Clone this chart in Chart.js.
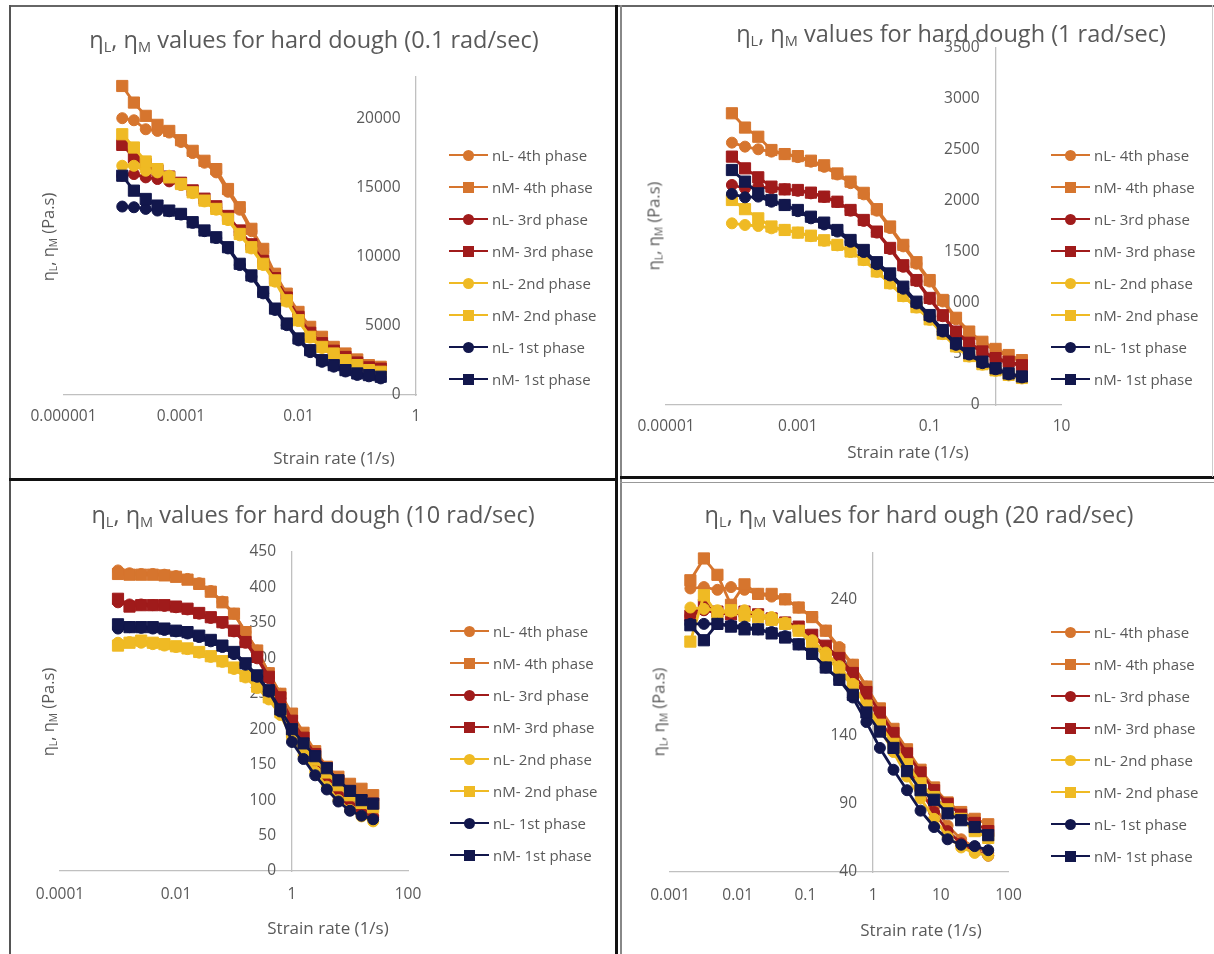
<!DOCTYPE html>
<html>
<head>
<meta charset="utf-8">
<title>hard dough viscosity</title>
<script src="https://cdn.jsdelivr.net/npm/chart.js"></script>
<style>
  body { margin: 0; width: 1214px; height: 954px; position: relative; overflow: hidden; background: #fff;
         font-family: 'Open Sans', sans-serif; color: #595959; }
  canvas { position: absolute; }
  .ln { position: absolute; }
  .title { position: absolute; font-size: 23.5px; white-space: nowrap; transform: translate(-50%, -50%); }
  .title sub, .ytitle sub { font-size: 62%; vertical-align: -0.3em; line-height: 0; }
  .ytitle { position: absolute; font-size: 16.5px; white-space: nowrap; transform: translate(-50%, -50%) rotate(-90deg); }
  .xtitle { position: absolute; font-size: 17px; white-space: nowrap; transform: translate(-50%, -50%); }
  .legend { position: absolute; font-size: 15px; }
  .legend .row { height: 32px; display: flex; align-items: center; white-space: nowrap; }
  .sym { position: relative; width: 39px; height: 12px; margin-right: 4px; }
  .sym .bar { position: absolute; left: 0; right: 0; top: 50%; height: 2.8px; margin-top: -1.4px; }
  .sym .mk { position: absolute; left: 50%; top: 50%; width: 11px; height: 11px; margin: -5.5px 0 0 -5.5px; }
</style>
</head>
<body>

<!-- panel frames -->
<div class="ln" style="left:9px;top:5px;width:1205px;height:2px;background:#666"></div>
<div class="ln" style="left:9px;top:5px;width:2px;height:949px;background:#555"></div>
<div class="ln" style="left:615px;top:5px;width:3px;height:949px;background:#111"></div>
<div class="ln" style="left:620px;top:5px;width:1.5px;height:949px;background:#888"></div>
<div class="ln" style="left:9px;top:478px;width:606px;height:3px;background:#111"></div>
<div class="ln" style="left:620px;top:476px;width:594px;height:2.5px;background:#111"></div>
<div class="ln" style="left:620px;top:482px;width:594px;height:1px;background:#999"></div>
<div class="ln" style="left:1212px;top:5px;width:1px;height:472px;background:#ccc"></div>

<canvas id="c1" width="600" height="470" style="left:10px;top:6px"></canvas>
<canvas id="c2" width="590" height="468" style="left:622px;top:6px"></canvas>
<canvas id="c3" width="600" height="470" style="left:10px;top:482px"></canvas>
<canvas id="c4" width="590" height="470" style="left:622px;top:482px"></canvas>

<div class="title" style="left:314px;top:39px">η<sub>L</sub>, η<sub>M</sub> values for hard dough (0.1 rad/sec)</div>
<div class="title" style="left:951px;top:33px">η<sub>L</sub>, η<sub>M</sub> values for hard dough (1 rad/sec)</div>
<div class="title" style="left:313px;top:514px">η<sub>L</sub>, η<sub>M</sub> values for hard dough (10 rad/sec)</div>
<div class="title" style="left:919px;top:514px">η<sub>L</sub>, η<sub>M</sub> values for hard ough (20 rad/sec)</div>

<div class="ytitle" style="left:47px;top:237px">η<sub>L</sub>, η<sub>M</sub> (Pa.s)</div>
<div class="ytitle" style="left:653px;top:226px">η<sub>L</sub>, η<sub>M</sub> (Pa.s)</div>
<div class="ytitle" style="left:47px;top:712px">η<sub>L</sub>, η<sub>M</sub> (Pa.s)</div>
<div class="ytitle" style="left:658px;top:712px">η<sub>L</sub>, η<sub>M</sub> (Pa.s)</div>

<div class="xtitle" style="left:334px;top:457px">Strain rate (1/s)</div>
<div class="xtitle" style="left:908px;top:451px">Strain rate (1/s)</div>
<div class="xtitle" style="left:328px;top:927px">Strain rate (1/s)</div>
<div class="xtitle" style="left:921px;top:929px">Strain rate (1/s)</div>

<div class="legend" id="lg1" style="left:449px;top:139px"></div>
<div class="legend" id="lg2" style="left:1051px;top:139px"></div>
<div class="legend" id="lg3" style="left:450px;top:615px"></div>
<div class="legend" id="lg4" style="left:1051px;top:616px"></div>

<script>
// series names and colours (same for all four panels)
const seriesLabels = ['nL- 4th phase', 'nM- 4th phase', 'nL- 3rd phase', 'nM- 3rd phase',
                      'nL- 2nd phase', 'nM- 2nd phase', 'nL- 1st phase', 'nM- 1st phase'];
const phaseColors = ['#D6752E', '#D6752E', '#A01B1B', '#A01B1B', '#EFBA24', '#EFBA24', '#12174C', '#12174C'];

// ---- 0.1 rad/sec ----
const strain1 = [0.00001, 0.0000158, 0.0000251, 0.0000398, 0.0000631, 0.0001, 0.000158, 0.000251, 0.000398, 0.000631,
                 0.001, 0.00158, 0.00251, 0.00398, 0.00631, 0.01, 0.0158, 0.0251, 0.0398, 0.0631, 0.1, 0.158, 0.251];
const p1_nL4 = [20020, 19870, 19220, 19100, 18980, 18300, 17500, 16800, 16100, 14700, 13400, 11850, 10400, 8600, 7200, 5900, 4850, 4100, 3400, 2900, 2480, 2100, 1950];
const p1_nM4 = [22350, 21150, 20190, 19540, 19100, 18430, 17660, 16940, 16340, 14900, 13580, 12020, 10570, 8770, 7330, 6010, 4930, 4210, 3480, 3000, 2570, 2160, 2040];
const p1_nL3 = [15860, 15980, 15740, 15620, 15450, 15200, 14700, 14100, 13550, 12850, 11800, 10800, 9600, 8350, 6950, 5550, 4400, 3650, 3100, 2650, 2250, 1950, 1850];
const p1_nM3 = [18090, 17180, 16700, 16250, 15800, 15350, 14800, 14200, 13650, 12950, 11900, 10900, 9700, 8450, 7050, 5650, 4500, 3750, 3200, 2750, 2350, 2000, 1900];
const p1_nL2 = [16580, 16580, 16220, 16100, 15860, 15200, 14600, 14000, 13400, 12650, 11550, 10600, 9400, 8200, 6750, 5350, 4150, 3400, 2900, 2450, 2100, 1750, 1600];
const p1_nM2 = [18860, 17900, 16890, 16340, 15740, 15260, 14660, 14060, 13460, 12740, 11650, 10690, 9490, 8290, 6850, 5410, 4210, 3480, 3000, 2520, 2160, 1800, 1680];
const p1_nL1 = [13630, 13580, 13460, 13340, 13290, 13050, 12450, 11850, 11350, 10600, 9400, 8550, 7350, 6150, 5050, 3950, 3100, 2400, 2050, 1700, 1450, 1350, 1200];
const p1_nM1 = [15860, 14780, 14180, 13700, 13340, 13100, 12500, 11900, 11410, 10690, 9490, 8650, 7450, 6250, 5170, 4090, 3240, 2520, 2160, 1800, 1560, 1440, 1320];
const xTicks1 = [0.000001, 0.0001, 0.01, 1];
const xLabels1 = ['0.000001', '0.0001', '0.01', '1'];
const yTicks1 = [0, 5000, 10000, 15000, 20000];

// ---- 1 rad/sec ----
const strain2 = [0.0001, 0.000158, 0.000251, 0.000398, 0.000631, 0.001, 0.00158, 0.00251, 0.00398, 0.00631,
                 0.01, 0.0158, 0.0251, 0.0398, 0.0631, 0.1, 0.158, 0.251, 0.398, 0.631, 1, 1.58, 2.51];
const p2_nL4 = [2572, 2533, 2507, 2484, 2461, 2430, 2385, 2335, 2260, 2175, 2065, 1905, 1735, 1555, 1385, 1210, 1015, 840, 705, 605, 535, 475, 425];
const p2_nM4 = [2860, 2720, 2630, 2500, 2460, 2440, 2395, 2350, 2270, 2190, 2080, 1920, 1750, 1570, 1400, 1225, 1030, 855, 720, 620, 550, 490, 440];
const p2_nL3 = [2157, 2124, 2141, 2124, 2114, 2100, 2075, 2040, 1990, 1905, 1805, 1690, 1530, 1355, 1215, 1040, 870, 710, 600, 515, 450, 415, 380];
const p2_nM3 = [2435, 2320, 2232, 2141, 2114, 2108, 2082, 2043, 1993, 1912, 1814, 1700, 1540, 1370, 1225, 1050, 880, 720, 610, 525, 460, 425, 390];
const p2_nL2 = [1781, 1765, 1755, 1732, 1716, 1690, 1655, 1610, 1565, 1500, 1420, 1305, 1190, 1065, 955, 835, 695, 570, 475, 395, 335, 290, 260];
const p2_nM2 = [2010, 1920, 1830, 1750, 1716, 1690, 1660, 1615, 1570, 1505, 1425, 1310, 1195, 1070, 960, 840, 700, 575, 480, 400, 340, 295, 265];
const p2_nL1 = [2069, 2036, 2043, 1993, 1961, 1900, 1830, 1770, 1700, 1600, 1500, 1380, 1270, 1140, 995, 865, 720, 590, 495, 410, 350, 300, 270];
const p2_nM1 = [2304, 2190, 2075, 2010, 1961, 1912, 1846, 1788, 1716, 1618, 1520, 1400, 1290, 1160, 1013, 882, 735, 605, 507, 425, 360, 310, 280];
const xTicks2 = [0.00001, 0.001, 0.1, 10];
const xLabels2 = ['0.00001', '0.001', '0.1', '10'];
const yTicks2 = [0, 500, 1000, 1500, 2000, 2500, 3000, 3500];

// ---- 10 rad/sec ----
const strain3 = [0.001, 0.00158, 0.00251, 0.00398, 0.00631, 0.01, 0.0158, 0.0251, 0.0398, 0.0631,
                 0.1, 0.158, 0.251, 0.398, 0.631, 1, 1.58, 2.51, 3.98, 6.31, 10, 15.8, 25.1];
const p3_nL4 = [424, 420, 419, 419, 418, 416, 412, 406, 395, 380, 363, 337, 311, 279, 250, 210, 178, 152, 128, 108, 94, 85, 78];
const p3_nM4 = [419, 418, 418, 418, 417, 415, 411, 405, 394, 379, 363, 337, 311, 279, 250, 222, 195, 169, 147, 133, 123, 116, 107];
const p3_nL3 = [379, 376, 376, 375, 374, 372, 369, 363, 357, 350, 338, 322, 300, 272, 243, 200, 172, 148, 126, 106, 91, 82, 76];
const p3_nM3 = [384, 373, 375, 375, 375, 373, 370, 364, 358, 351, 339, 323, 302, 274, 245, 212, 188, 165, 145, 127, 112, 100, 95];
const p3_nL2 = [322, 323, 322, 320, 318, 316, 313, 308, 302, 295, 285, 273, 258, 242, 220, 188, 163, 140, 119, 100, 86, 77, 70];
const p3_nM2 = [318, 322, 325, 322, 320, 317, 314, 309, 303, 296, 287, 275, 260, 245, 224, 196, 176, 157, 139, 121, 107, 96, 90];
const p3_nL1 = [342, 344, 343, 342, 340, 338, 335, 330, 324, 316, 306, 291, 274, 253, 225, 182, 158, 135, 115, 98, 85, 78, 73];
const p3_nM1 = [348, 344, 344, 344, 342, 339, 337, 332, 326, 318, 309, 293, 276, 255, 228, 200, 180, 162, 145, 128, 113, 100, 95];
const xTicks3 = [0.0001, 0.01, 1, 100];
const xLabels3 = ['0.0001', '0.01', '1', '100'];
const yTicks3 = [0, 50, 100, 150, 200, 250, 300, 350, 400, 450];

// ---- 20 rad/sec ----
const strain4 = [0.002, 0.00317, 0.00502, 0.00796, 0.0126, 0.02, 0.0317, 0.0502, 0.0796, 0.126,
                 0.2, 0.317, 0.502, 0.796, 1.26, 2, 3.17, 5.02, 7.96, 12.6, 20, 31.7, 50.2];
const p4_nL4 = [248, 249, 247, 249, 247, 244, 242, 240, 234, 227, 217, 205, 192, 176, 158, 140, 122, 105, 88, 74, 64, 58, 54];
const p4_nM4 = [254, 270, 258, 236, 251, 244, 244, 240, 234, 227, 217, 203, 192, 176, 160, 145, 130, 115, 102, 91, 84, 79, 75];
const p4_nL3 = [228, 232, 230, 229, 230, 228, 226, 223, 219, 213, 205, 195, 183, 168, 152, 135, 118, 100, 84, 70, 61, 55, 52];
const p4_nM3 = [228, 236, 231, 229, 231, 229, 226, 223, 220, 214, 206, 197, 186, 172, 157, 142, 127, 113, 100, 90, 82, 76, 70];
const p4_nL2 = [234, 233, 232, 231, 232, 229, 227, 223, 217, 210, 201, 191, 178, 162, 145, 128, 110, 94, 79, 66, 58, 54, 52];
const p4_nM2 = [209, 243, 229, 232, 228, 227, 225, 222, 217, 207, 198, 188, 176, 162, 148, 134, 119, 105, 95, 86, 79, 70, 65];
const p4_nL1 = [222, 222, 222, 221, 220, 218, 216, 213, 207, 200, 190, 181, 168, 150, 131, 115, 100, 85, 73, 64, 60, 59, 56];
const p4_nM1 = [221, 210, 222, 220, 218, 218, 215, 212, 207, 200, 190, 181, 170, 157, 143, 131, 114, 100, 93, 83, 78, 73, 67];
const xTicks4 = [0.001, 0.01, 0.1, 1, 10, 100];
const xLabels4 = ['0.001', '0.01', '0.1', '1', '10', '100'];
const yTicks4 = [40, 90, 140, 190, 240];

const tickFont = { family: "'Open Sans', sans-serif", size: 15.5 };
const tickColor = '#595959';
const axisColor = '#c0c0c0';

// the vertical axis crosses at strain rate 1; its labels sit a little to the left (labelAt)
function makeChart(id, strain, series, xr, xTicks, xLabels, yr, yTicks, labelAt, pad, xPad) {
  const datasets = series.map((vals, i) => ({
    label: seriesLabels[i],
    data: strain.map((x, k) => ({ x: x, y: vals[k] })),
    borderColor: phaseColors[i],
    backgroundColor: phaseColors[i],
    pointBackgroundColor: phaseColors[i],
    pointBorderColor: phaseColors[i],
    pointStyle: i % 2 ? 'rect' : 'circle',
    pointRadius: i % 2 ? 7.9 : 5.5,
    pointBorderWidth: 1,
    borderWidth: 2.8,
    tension: 0,
    clip: false,
    order: 8 - i   // excel draws the last series on top
  }));

  const yBuild = s => { s.ticks = yTicks.map(v => ({ value: v })); };

  return new Chart(document.getElementById(id), {
    type: 'line',
    data: { datasets: datasets },
    options: {
      responsive: false,
      animation: false,
      devicePixelRatio: 1,
      layout: { padding: pad },
      plugins: { legend: { display: false }, tooltip: { enabled: false } },
      scales: {
        x: {
          type: 'logarithmic',
          position: 'bottom',
          min: xr[0], max: xr[1],
          grid: { display: false, drawTicks: false },
          border: { color: axisColor, width: 1.3 },
          ticks: { font: tickFont, color: tickColor, padding: xPad, autoSkip: false, maxRotation: 0,
                   callback: (v, i) => xLabels[i] },
          afterBuildTicks: s => { s.ticks = xTicks.map(v => ({ value: v })); },
          afterFit: s => { s.height = 40; }
        },
        y: {
          type: 'linear',
          position: { x: 1 },
          min: yr[0], max: yr[1],
          grid: { display: false, drawTicks: false },
          border: { color: axisColor, width: 1.3 },
          ticks: { display: false },
          afterBuildTicks: yBuild
        },
        yLabels: {
          axis: 'y',
          type: 'linear',
          position: { x: labelAt },
          min: yr[0], max: yr[1],
          grid: { display: false, drawTicks: false },
          border: { display: false },
          ticks: { font: tickFont, color: tickColor, padding: 0, callback: v => String(v) },
          afterBuildTicks: yBuild
        }
      }
    }
  });
}

function makeLegend(id) {
  const box = document.getElementById(id);
  seriesLabels.forEach((name, i) => {
    const row = document.createElement('div');
    row.className = 'row';
    const sym = document.createElement('span');
    sym.className = 'sym';
    const bar = document.createElement('span');
    bar.className = 'bar';
    bar.style.background = phaseColors[i];
    const mk = document.createElement('span');
    mk.className = 'mk';
    mk.style.background = phaseColors[i];
    if (i % 2 === 0) mk.style.borderRadius = '50%';
    sym.appendChild(bar);
    sym.appendChild(mk);
    const txt = document.createElement('span');
    txt.textContent = name;
    row.appendChild(sym);
    row.appendChild(txt);
    box.appendChild(row);
  });
}

makeChart('c1', strain1, [p1_nL4, p1_nM4, p1_nL3, p1_nM3, p1_nL2, p1_nM2, p1_nL1, p1_nM1],
  [0.000001, 1], xTicks1, xLabels1, [0, 23000], yTicks1, 0.545,
  { left: 53.5, top: 71, right: 194, bottom: 41 }, 12);
makeChart('c2', strain2, [p2_nL4, p2_nM4, p2_nL3, p2_nM3, p2_nL2, p2_nM2, p2_nL1, p2_nM1],
  [0.00001, 10], xTicks2, xLabels2, [0, 3500], yTicks2, 0.57,
  { left: 44, top: 42, right: 150.5, bottom: 29 }, 12.5);
makeChart('c3', strain3, [p3_nL4, p3_nM4, p3_nL3, p3_nM3, p3_nL2, p3_nM2, p3_nL1, p3_nM1],
  [0.0001, 100], xTicks3, xLabels3, [0, 450], yTicks3, 0.53,
  { left: 50, top: 70, right: 202, bottom: 41 }, 14);
makeChart('c4', strain4, [p4_nL4, p4_nM4, p4_nL3, p4_nM3, p4_nL2, p4_nM2, p4_nL1, p4_nM1],
  [0.001, 100], xTicks4, xLabels4, [40, 274], yTicks4, 0.58,
  { left: 48, top: 71, right: 203.5, bottom: 40 }, 14);

['lg1', 'lg2', 'lg3', 'lg4'].forEach(makeLegend);
</script>
</body>
</html>
